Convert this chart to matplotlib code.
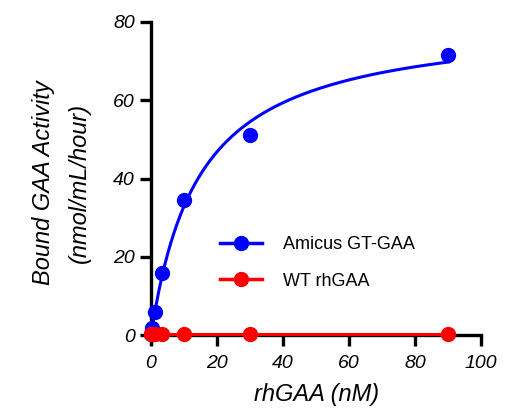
"""
Bound GAA activity vs rhGAA concentration (recreated figure).
"""

import matplotlib
matplotlib.use('Agg')
import matplotlib.pyplot as plt
import numpy as np

# rhGAA concentration (nM)
conc = [0, 0.37, 1.1, 3.3, 10, 30, 90]
# bound activity (nmol/mL/hour)
amicus = [0.3, 2.0, 6.0, 16.0, 34.5, 51.0, 71.5]
wt = [0.3, 0.3, 0.3, 0.3, 0.3, 0.3, 0.3]

x_ticks = [0, 20, 40, 60, 80, 100]
y_ticks = [0, 20, 40, 60, 80]

plt.rcParams['font.family'] = ['Liberation Sans', 'DejaVu Sans']

# one-site binding fit: for each Kd, Bmax is a linear least squares
x = np.array(conc, dtype=float)
y = np.array(amicus, dtype=float)
best = None
for kd in np.linspace(1, 40, 391):
    f = x / (kd + x)
    bmax = (f @ y) / (f @ f)
    err = np.sum((y - bmax * f) ** 2)
    if best is None or err < best[0]:
        best = (err, kd, bmax)
_, kd_fit, bmax_fit = best
xs = np.linspace(0, max(conc), 300)
ys = bmax_fit * xs / (kd_fit + xs)

wt_fit = np.full_like(xs, np.mean(wt))

fig = plt.figure(figsize=(5.05, 4.12), dpi=100)
ax = fig.add_axes([0.299, 0.167, 0.654, 0.78])

blue = "#0000ff"
red = "#ff0000"

ax.plot(xs, ys, color=blue, linewidth=2.2, clip_on=False)
ax.plot(conc, amicus, 'o', color=blue, markersize=10, clip_on=False, zorder=3)
ax.plot(xs, wt_fit, color=red, linewidth=2.2, clip_on=False, zorder=4)
ax.plot(conc, wt, 'o', color=red, markersize=10, clip_on=False, zorder=5)

# legend proxies
ax.plot([], [], '-o', color=blue, linewidth=2.5, markersize=10, label="Amicus GT-GAA")
ax.plot([], [], '-o', color=red, linewidth=2.5, markersize=10, label="WT rhGAA")
ax.legend(loc="center left", bbox_to_anchor=(0.16, 0.25), frameon=False,
          fontsize=13, handlelength=2.3, labelspacing=1.1, handletextpad=1.2)

ax.set_xlim(0, 100)
ax.set_ylim(-2, 80)
ax.set_xticks(x_ticks)
ax.set_yticks(y_ticks)
ax.spines['top'].set_visible(False)
ax.spines['right'].set_visible(False)
ax.spines['bottom'].set_position(('data', 0))
for s in ('left', 'bottom'):
    ax.spines[s].set_linewidth(2.4)
ax.tick_params(axis='both', direction='out', width=2.4, length=8,
               labelsize=14)
ax.tick_params(axis='x', pad=6)
for lab in ax.get_xticklabels() + ax.get_yticklabels():
    lab.set_fontstyle('italic')

ax.set_xlabel("rhGAA (nM)", fontsize=17, style='italic', labelpad=8)
ax.set_ylabel("Bound GAA Activity\n(nmol/mL/hour)", fontsize=17,
              style='italic', labelpad=16, linespacing=1.7)

plt.savefig("out.png", dpi=100)
plt.close(fig)
